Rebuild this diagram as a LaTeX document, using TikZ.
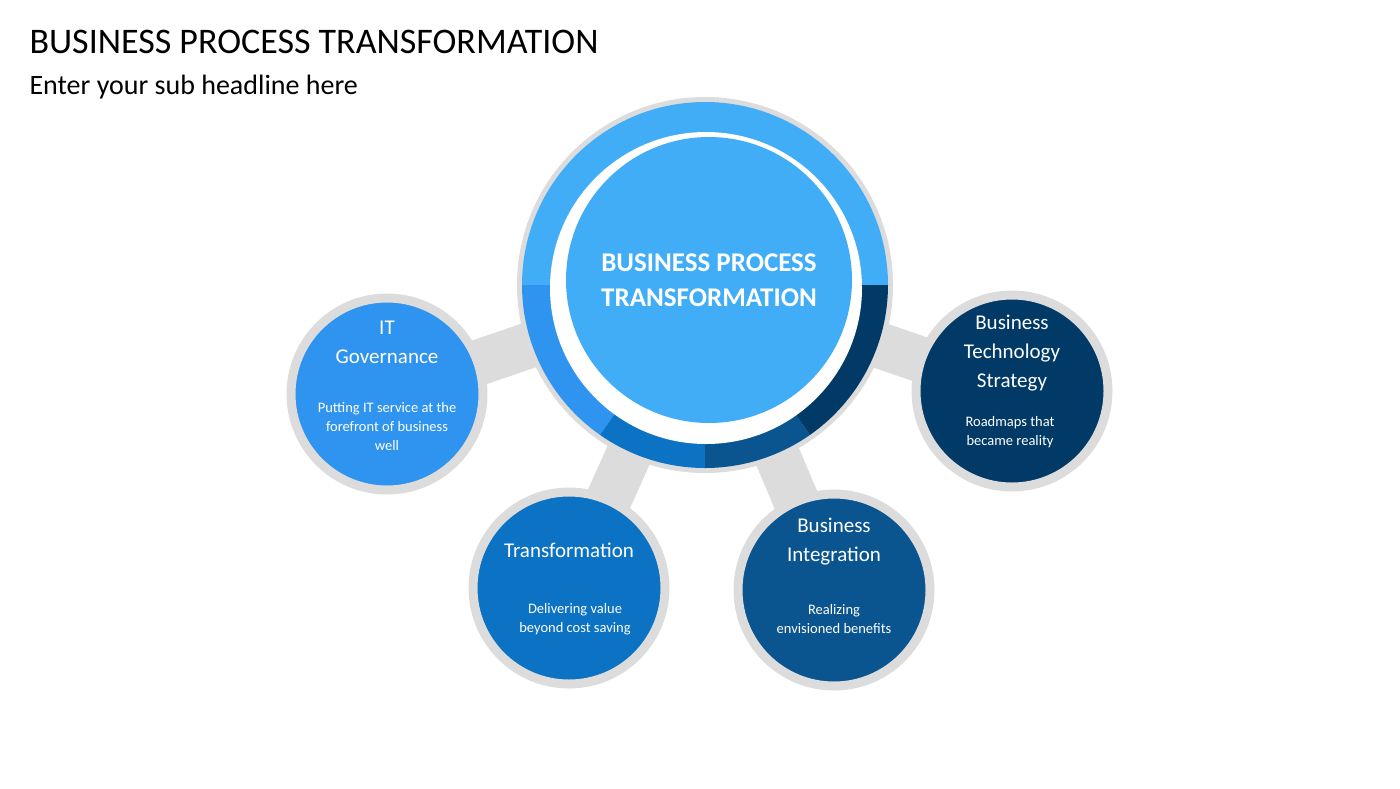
\documentclass[tikz,border=0pt]{standalone}
\usepackage{fontspec}
\setmainfont{Carlito}
\definecolor{gr}{HTML}{DCDCDC}
\definecolor{cA}{HTML}{42ADF7}
\definecolor{cB}{HTML}{2F93F0}
\definecolor{cC}{HTML}{0B72C4}
\definecolor{cD}{HTML}{0A5590}
\definecolor{cE}{HTML}{013A66}
\tikzset{
 sat/.style={circle,draw=gr,line width=9pt,minimum size=192pt,inner sep=0pt,text=white,align=center},
 link/.style={gr,line width=46pt},
}
\begin{document}
\begin{tikzpicture}[x=1pt,y=-1pt]
\useasboundingbox (0,0) rectangle (1400,788);
\node[anchor=west,font=\fontsize{36}{40}\selectfont] (t) at (26,42) {BUSINESS PROCESS TRANSFORMATION};
\node[anchor=west,font=\fontsize{28}{30}\selectfont] (s) at (26,87) {Enter your sub headline here};
\coordinate (c) at (705,285);
\coordinate (g) at (387,394);
\coordinate (tr) at (569,588);
\coordinate (bi) at (834,590);
\coordinate (bt) at (1012,391);
\foreach \p in {g,tr,bi,bt} \draw[link] (c) -- (\p);
% central
\fill[gr] (c) circle (188);
\fill[cA] (c) -- ++(180:183) arc[start angle=180,end angle=360,radius=183] -- cycle;
\fill[cB] (c) -- ++(180:183) arc[start angle=180,end angle=125,radius=183] -- cycle;
\fill[cC] (c) -- ++(125:183) arc[start angle=125,end angle=90,radius=183] -- cycle;
\fill[cD] (c) -- ++(90:183) arc[start angle=90,end angle=55,radius=183] -- cycle;
\fill[cE] (c) -- ++(55:183) arc[start angle=55,end angle=0,radius=183] -- cycle;
\fill[white] (706,288) circle (156);
\node[circle,fill=cA,minimum size=286pt,inner sep=0pt,text=white,align=center,font=\bfseries\fontsize{27}{35}\selectfont] (m) at (709,280) {BUSINESS PROCESS\\TRANSFORMATION};
% satellites
\node[sat,fill=cB] (ng) at (g) {};
\node[text=white,align=center,font=\fontsize{21}{29}\selectfont] at (387,342) {IT\\Governance};
\node[text=white,align=center,font=\fontsize{14.5}{19}\selectfont] at (387,427) {Putting IT service at the\\forefront of business\\well};
\node[sat,fill=cC] (ntr) at (tr) {};
\node[text=white,align=center,font=\fontsize{21}{29}\selectfont] at (569,550) {Transformation};
\node[text=white,align=center,font=\fontsize{14.5}{19}\selectfont] at (575,619) {Delivering value\\beyond cost saving};
\node[sat,fill=cD] (nbi) at (bi) {};
\node[text=white,align=center,font=\fontsize{21}{29}\selectfont] at (834,542) {Business\\Integration};
\node[text=white,align=center,font=\fontsize{14.5}{19}\selectfont] at (834,619) {Realizing\\envisioned benefits};
\node[sat,fill=cE] (nbt) at (bt) {};
\node[text=white,align=center,font=\fontsize{21}{29}\selectfont] at (1012,353) {Business\\Technology\\Strategy};
\node[text=white,align=center,font=\fontsize{14.5}{19}\selectfont] at (1010,432) {Roadmaps that\\became reality};
\end{tikzpicture}
\end{document}
